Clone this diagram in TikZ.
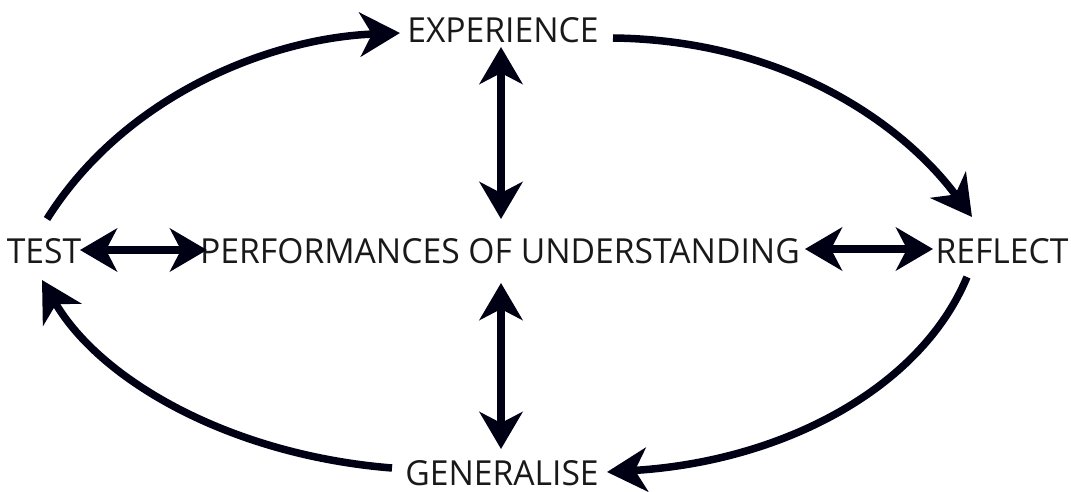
\documentclass[tikz,border=0pt]{standalone}
\usepackage{fontspec}
\setmainfont{Open Sans}[FakeStretch=0.975]
\usetikzlibrary{arrows.meta}
\begin{document}
\begin{tikzpicture}[x=1pt,y=-1pt,
  lbl/.style={inner sep=0pt, anchor=base, font=\fontsize{34.5}{40}\selectfont, text=black!90},
  conn/.style={line width=7.5pt, color=black!92!blue,
    -{Stealth[length=40pt,width=44pt,inset=12pt]}},
  dbl/.style={line width=7.5pt, color=black!92!blue,
    {Stealth[length=37pt,width=43pt,inset=11pt]}-{Stealth[length=37pt,width=43pt,inset=11pt]}}]
\useasboundingbox (0,0) rectangle (1071,492);
\node[lbl] (exp) at (503,43) {EXPERIENCE};
\node[lbl] (test) at (44,263) {TEST};
\node[lbl] (perf) at (500,263) {PERFORMANCES OF UNDERSTANDING};
\node[lbl] (refl) at (1002,263) {REFLECT};
\node[lbl] (gen) at (502,485) {GENERALISE};
% cycle endpoints
\coordinate (t1) at (47,219);
\coordinate (e1) at (400,33);
\coordinate (e2) at (613,38);
\coordinate (r1) at (972,217);
\coordinate (r2) at (967,277);
\coordinate (g1) at (607,472);
\coordinate (g2) at (392,468);
\coordinate (t2) at (42,280);
\draw[conn] (t1) .. controls (125,95) and (270,38) .. (e1);
\draw[conn] (e2) .. controls (780,40) and (900,120) .. (r1);
\draw[conn] (r2) .. controls (920,390) and (780,462) .. (g1);
\draw[conn] (g2) .. controls (230,455) and (100,380) .. (t2);
% double arrows
\coordinate (v1) at (501,47);
\coordinate (v2) at (501,219);
\coordinate (v3) at (501,283);
\coordinate (v4) at (501,449);
\coordinate (h1) at (80,250);
\coordinate (h2) at (207,250);
\coordinate (h3) at (805,249);
\coordinate (h4) at (933,249);
\draw[dbl] (v1) -- (v2);
\draw[dbl] (v3) -- (v4);
\draw[dbl] (h1) -- (h2);
\draw[dbl] (h3) -- (h4);
\end{tikzpicture}
\end{document}
